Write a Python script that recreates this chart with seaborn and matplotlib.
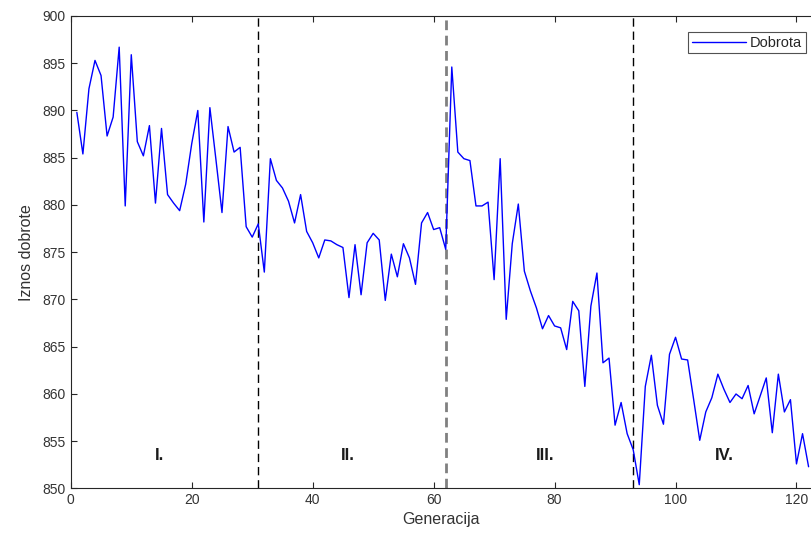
import numpy as np
import pandas as pd
import seaborn as sns
import matplotlib.pyplot as plt

# fitness value per generation
generacija = list(range(1, 123))
dobrota = [
    889.8, 885.4, 892.3, 895.3, 893.7, 887.3, 889.3, 896.7, 879.9, 895.9,
    886.7, 885.2, 888.4, 880.2, 888.1, 881.1, 880.2, 879.4, 882.2, 886.5,
    890.0, 878.2, 890.3, 884.8, 879.2, 888.3, 885.6, 886.1, 877.7, 876.6,
    878.0, 872.9, 884.9, 882.6, 881.8, 880.4, 878.1, 881.1, 877.2, 876.0,
    874.4, 876.3, 876.2, 875.8, 875.5, 870.2, 875.8, 870.5, 876.0, 877.0,
    876.3, 869.9, 874.8, 872.4, 875.9, 874.4, 871.6, 878.1, 879.2, 877.4,
    877.6, 875.3, 894.6, 885.6, 884.9, 884.7, 879.9, 879.9, 880.3, 872.1,
    884.9, 867.9, 875.9, 880.1, 873.0, 870.9, 869.1, 866.9, 868.3, 867.2,
    867.0, 864.7, 869.8, 868.8, 860.8, 869.3, 872.8, 863.3, 863.8, 856.7,
    859.1, 855.8, 854.1, 850.4, 860.8, 864.1, 858.8, 856.8, 864.2, 866.0,
    863.7, 863.6, 859.4, 855.1, 858.1, 859.6, 862.1, 860.5, 859.1, 860.0,
    859.5, 860.9, 857.9, 859.8, 861.7, 855.9, 862.1, 858.1, 859.4, 852.6,
    855.8, 852.3,
]
granice = [31, 62, 93]
faze = ["I.", "II.", "III.", "IV."]
faze_x = [14.6, 45.8, 78.4, 108.1]

df = pd.DataFrame({"Generacija": generacija, "Dobrota": dobrota})

sns.set_style("ticks")
plt.rcParams["font.family"] = ["Liberation Sans", "DejaVu Sans"]

fig = plt.figure(figsize=(8.11, 5.40), dpi=100)
ax = fig.add_axes([0.0873, 0.0954, 0.9127, 0.875])

# phase borders drawn under the curve
for i, g in enumerate(granice):
    if i == 1:
        ax.axvline(g, color="#808080", linewidth=2.0, dashes=(3.5, 2.0), zorder=1)
    else:
        ax.axvline(g, color="black", linewidth=1.0, dashes=(6, 3.5), zorder=1)

sns.lineplot(data=df, x="Generacija", y="Dobrota", color="blue", linewidth=1.0,
             label="Dobrota", ax=ax, zorder=3)

for lab, xx in zip(faze, faze_x):
    ax.text(xx, 853.5, lab, ha="center", va="center", fontsize=12,
            fontweight="bold", color="#1a1a1a")

ax.set_xlim(0, 122.4)
ax.set_ylim(850, 900)
ax.set_xticks(np.arange(0, 121, 20))
ax.set_yticks(np.arange(850, 901, 5))
ax.tick_params(direction="in", length=4, width=0.8, top=True, right=False,
               labelsize=10, labelcolor="#333333", color="#262626")
for s in ax.spines.values():
    s.set_color("#262626")
    s.set_linewidth(0.8)
ax.spines["right"].set_visible(False)

ax.set_xlabel("Generacija", fontsize=11.5, color="#333333", labelpad=3)
ax.set_ylabel("Iznos dobrote", fontsize=11.5, color="#333333", labelpad=6)

leg = ax.legend(loc="upper right", fontsize=10.5, frameon=True, fancybox=False,
                handlelength=3.7, borderpad=0.25, borderaxespad=0,
                handletextpad=0.3,
                bbox_to_anchor=(806 / 811, 1 - 32 / 540),
                bbox_transform=fig.transFigure)
leg.get_frame().set_edgecolor("#262626")
leg.get_frame().set_linewidth(0.8)

fig.savefig("out.png", dpi=100)
